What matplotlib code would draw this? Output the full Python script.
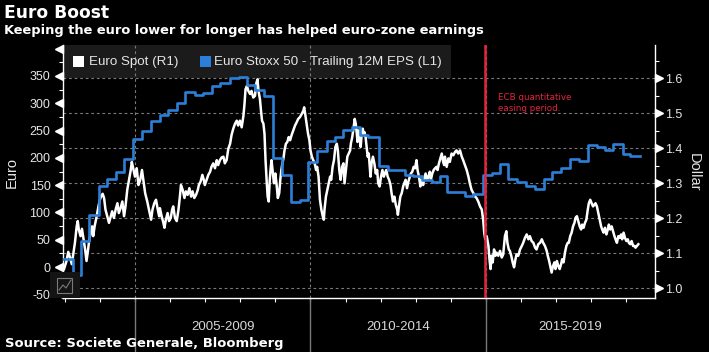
import matplotlib
matplotlib.use("Agg")
import matplotlib.pyplot as plt
from matplotlib import transforms
from matplotlib.patches import Rectangle
from matplotlib.lines import Line2D

W, H = 709, 352

# ---------------- data ----------------
# Euro Stoxx 50 trailing 12M EPS (left axis, euro), step series: start date of each level
eps_dates = [2002.96, 2003.23, 2003.45, 2003.70, 2003.98, 2004.20, 2004.46, 2004.69, 2004.95, 2005.19,
             2005.45, 2005.70, 2005.95, 2006.19, 2006.43, 2006.71, 2006.95, 2007.19, 2007.42, 2007.71,
             2007.95, 2008.18, 2008.42, 2008.68, 2008.93, 2009.18, 2009.44, 2009.69, 2009.94, 2010.18,
             2010.46, 2010.70, 2010.94, 2011.18, 2011.41, 2011.65, 2011.94, 2012.20, 2012.69, 2012.93,
             2013.17, 2013.46, 2013.69, 2013.90, 2014.40, 2014.64, 2014.91, 2015.16, 2015.40, 2015.64,
             2015.89, 2016.14, 2016.40, 2016.64, 2016.87, 2017.14, 2017.40, 2017.64, 2017.90, 2018.16,
             2018.40, 2018.63, 2018.89, 2019.11]
eps_values = [14, -15, 48, 95, 149, 162, 175, 197, 235, 249,
              268, 279, 288, 301, 320, 315, 318, 332, 337, 346,
              349, 333, 324, 314, 199, 169, 120, 122, 193, 213,
              231, 238, 251, 257, 241, 239, 185, 178, 169, 167,
              159, 155, 167, 138, 130, 134, 169, 172, 189, 162,
              156, 149, 143, 161, 174, 181, 197, 194, 224, 219,
              214, 225, 207, 204]
eps_last_date = 2019.38

# EUR/USD spot (right axis, dollar)
fx_dates_2003 = [2002.98, 2003.05, 2003.10, 2003.15, 2003.20, 2003.24, 2003.29, 2003.34, 2003.37, 2003.40,
                 2003.45, 2003.49, 2003.53, 2003.58, 2003.62, 2003.66, 2003.70, 2003.74, 2003.78, 2003.81,
                 2003.85, 2003.91, 2003.96, 2004.00, 2004.04, 2004.08, 2004.12, 2004.16, 2004.21, 2004.26,
                 2004.31, 2004.35, 2004.40, 2004.45, 2004.50, 2004.54, 2004.59, 2004.64, 2004.69, 2004.73,
                 2004.78, 2004.83, 2004.88, 2004.91, 2004.95, 2005.00, 2005.05, 2005.10, 2005.15, 2005.20,
                 2005.25, 2005.29, 2005.35, 2005.41, 2005.46, 2005.50, 2005.55, 2005.60, 2005.65, 2005.69]
fx_values_2003 = [1.055, 1.078, 1.104, 1.088, 1.069, 1.097, 1.130, 1.177, 1.192, 1.168,
                  1.149, 1.170, 1.144, 1.111, 1.078, 1.107, 1.140, 1.159, 1.177, 1.149,
                  1.177, 1.206, 1.234, 1.253, 1.264, 1.270, 1.258, 1.225, 1.206, 1.187,
                  1.206, 1.220, 1.201, 1.225, 1.243, 1.215, 1.229, 1.248, 1.206, 1.234,
                  1.281, 1.310, 1.338, 1.361, 1.343, 1.319, 1.343, 1.295, 1.310, 1.338,
                  1.300, 1.272, 1.248, 1.220, 1.196, 1.225, 1.243, 1.253, 1.225, 1.206]

fx_dates_2005 = [2005.71, 2005.76, 2005.81, 2005.84, 2005.88, 2005.93, 2005.97, 2006.02, 2006.06, 2006.09,
                 2006.14, 2006.19, 2006.24, 2006.28, 2006.31, 2006.36, 2006.41, 2006.45, 2006.50, 2006.55,
                 2006.60, 2006.64, 2006.69, 2006.74, 2006.79, 2006.82, 2006.87, 2006.92, 2006.96, 2006.99,
                 2007.04, 2007.09, 2007.14, 2007.18, 2007.23, 2007.28, 2007.33, 2007.37, 2007.42, 2007.47,
                 2007.52, 2007.56, 2007.61, 2007.66, 2007.71, 2007.75, 2007.80, 2007.85, 2007.90, 2007.94,
                 2007.99, 2008.04, 2008.09, 2008.12, 2008.15, 2008.19, 2008.23, 2008.28, 2008.32, 2008.37,
                 2008.42]
fx_values_2005 = [1.229, 1.206, 1.187, 1.173, 1.196, 1.215, 1.192, 1.201, 1.225, 1.234,
                  1.201, 1.192, 1.225, 1.262, 1.295, 1.281, 1.258, 1.277, 1.267, 1.286,
                  1.262, 1.277, 1.258, 1.267, 1.281, 1.295, 1.305, 1.324, 1.310, 1.295,
                  1.310, 1.324, 1.333, 1.347, 1.357, 1.343, 1.366, 1.352, 1.366, 1.374,
                  1.376, 1.357, 1.366, 1.399, 1.413, 1.437, 1.456, 1.470, 1.479, 1.465,
                  1.479, 1.460, 1.493, 1.526, 1.569, 1.578, 1.564, 1.555, 1.564, 1.545,
                  1.550]

fx_dates_2008 = [2008.45, 2008.49, 2008.52, 2008.56, 2008.59, 2008.62, 2008.66, 2008.69, 2008.72, 2008.75,
                 2008.78, 2008.81, 2008.84, 2008.87, 2008.89, 2008.92, 2008.96, 2009.00, 2009.04, 2009.07,
                 2009.11, 2009.14, 2009.17, 2009.20, 2009.23, 2009.26, 2009.30, 2009.34, 2009.38, 2009.42,
                 2009.46, 2009.51, 2009.56, 2009.61, 2009.65, 2009.70, 2009.75, 2009.80, 2009.82, 2009.85,
                 2009.89, 2009.93, 2009.97, 2010.00, 2010.04, 2010.08, 2010.12, 2010.16, 2010.19, 2010.23,
                 2010.27, 2010.31, 2010.35, 2010.38, 2010.40, 2010.44, 2010.48, 2010.52, 2010.56, 2010.59,
                 2010.63, 2010.67, 2010.71, 2010.75, 2010.78, 2010.82, 2010.86, 2010.90, 2010.94, 2010.97,
                 2011.01, 2011.05, 2011.09, 2011.13]
fx_values_2008 = [1.583, 1.597, 1.564, 1.541, 1.508, 1.479, 1.470, 1.442, 1.366, 1.310,
                  1.262, 1.248, 1.310, 1.347, 1.366, 1.338, 1.300, 1.328, 1.291, 1.258,
                  1.272, 1.310, 1.338, 1.357, 1.371, 1.394, 1.413, 1.418, 1.432, 1.423,
                  1.437, 1.451, 1.465, 1.475, 1.484, 1.489, 1.498, 1.508, 1.517, 1.498,
                  1.470, 1.442, 1.423, 1.394, 1.376, 1.366, 1.357, 1.338, 1.347, 1.319,
                  1.253, 1.225, 1.206, 1.196, 1.225, 1.262, 1.281, 1.300, 1.319, 1.310,
                  1.347, 1.366, 1.404, 1.413, 1.394, 1.338, 1.310, 1.347, 1.357, 1.300,
                  1.338, 1.376, 1.385, 1.394]

fx_dates_2011 = [2011.15, 2011.19, 2011.23, 2011.26, 2011.29, 2011.32, 2011.34, 2011.37, 2011.40, 2011.43,
                 2011.46, 2011.49, 2011.52, 2011.54, 2011.57, 2011.60, 2011.63, 2011.66, 2011.69, 2011.71,
                 2011.74, 2011.78, 2011.82, 2011.86, 2011.90, 2011.93, 2011.97, 2012.01, 2012.05, 2012.09,
                 2012.12, 2012.16, 2012.20, 2012.24, 2012.28, 2012.31, 2012.35, 2012.39, 2012.43, 2012.47,
                 2012.49, 2012.52, 2012.56, 2012.60, 2012.64, 2012.67, 2012.71, 2012.75, 2012.79, 2012.83,
                 2012.86, 2012.90, 2012.94, 2012.98, 2013.02, 2013.05, 2013.09, 2013.13, 2013.17, 2013.21,
                 2013.24, 2013.28, 2013.32, 2013.36, 2013.40, 2013.43, 2013.47, 2013.51, 2013.55, 2013.59,
                 2013.62, 2013.66, 2013.70, 2013.74, 2013.78, 2013.81]
fx_values_2011 = [1.413, 1.432, 1.460, 1.484, 1.470, 1.442, 1.418, 1.451, 1.432, 1.404,
                  1.442, 1.456, 1.437, 1.446, 1.432, 1.404, 1.376, 1.385, 1.347, 1.319,
                  1.357, 1.376, 1.357, 1.328, 1.338, 1.300, 1.291, 1.319, 1.338, 1.319,
                  1.328, 1.338, 1.319, 1.310, 1.295, 1.272, 1.248, 1.262, 1.239, 1.225,
                  1.210, 1.234, 1.262, 1.272, 1.291, 1.300, 1.310, 1.286, 1.305, 1.319,
                  1.328, 1.333, 1.347, 1.343, 1.366, 1.338, 1.319, 1.291, 1.310, 1.295,
                  1.314, 1.328, 1.310, 1.319, 1.333, 1.310, 1.328, 1.338, 1.343, 1.347,
                  1.338, 1.357, 1.371, 1.385, 1.361, 1.352]

fx_dates_2014 = [2013.83, 2013.88, 2013.93, 2013.97, 2014.02, 2014.07, 2014.12, 2014.16, 2014.21, 2014.26,
                 2014.31, 2014.35, 2014.40, 2014.45, 2014.50, 2014.54, 2014.59, 2014.64, 2014.69, 2014.73,
                 2014.78, 2014.83, 2014.88, 2014.92, 2014.95, 2014.98, 2015.02, 2015.07, 2015.10, 2015.13,
                 2015.16, 2015.19, 2015.23, 2015.27, 2015.30, 2015.35, 2015.40, 2015.45, 2015.49, 2015.54,
                 2015.58, 2015.61, 2015.65, 2015.68, 2015.72, 2015.76, 2015.80, 2015.84, 2015.87, 2015.92,
                 2015.97, 2016.02, 2016.06, 2016.11, 2016.16, 2016.21, 2016.25, 2016.30, 2016.35, 2016.40,
                 2016.44, 2016.49, 2016.54]
fx_values_2014 = [1.376, 1.347, 1.371, 1.361, 1.385, 1.380, 1.390, 1.394, 1.385, 1.394,
                  1.376, 1.366, 1.352, 1.338, 1.319, 1.300, 1.281, 1.272, 1.262, 1.258,
                  1.248, 1.234, 1.225, 1.196, 1.159, 1.140, 1.149, 1.121, 1.083, 1.055,
                  1.093, 1.074, 1.111, 1.093, 1.102, 1.093, 1.107, 1.088, 1.097, 1.149,
                  1.163, 1.130, 1.111, 1.107, 1.093, 1.074, 1.060, 1.083, 1.097, 1.093,
                  1.111, 1.121, 1.130, 1.144, 1.154, 1.140, 1.149, 1.135, 1.130, 1.116,
                  1.111, 1.126, 1.130]

fx_dates_2016 = [2016.59, 2016.63, 2016.68, 2016.73, 2016.76, 2016.80, 2016.83, 2016.87, 2016.91, 2016.95,
                 2016.98, 2017.02, 2017.06, 2017.10, 2017.14, 2017.17, 2017.21, 2017.25, 2017.29, 2017.33,
                 2017.36, 2017.40, 2017.44, 2017.48, 2017.52, 2017.55, 2017.59, 2017.63, 2017.67, 2017.71,
                 2017.74, 2017.78, 2017.82, 2017.86, 2017.90, 2017.93, 2017.97, 2018.01, 2018.05, 2018.09,
                 2018.12, 2018.16, 2018.20, 2018.24, 2018.28, 2018.31, 2018.35, 2018.39, 2018.43, 2018.47,
                 2018.50, 2018.54, 2018.58, 2018.62, 2018.66, 2018.69, 2018.73, 2018.77, 2018.81, 2018.85,
                 2018.88, 2018.92, 2018.96, 2019.00, 2019.04, 2019.07, 2019.11, 2019.15, 2019.19, 2019.23,
                 2019.26, 2019.30, 2019.34]
fx_values_2016 = [1.140, 1.130, 1.121, 1.107, 1.093, 1.078, 1.064, 1.045, 1.064, 1.074,
                  1.055, 1.078, 1.064, 1.055, 1.069, 1.083, 1.074, 1.102, 1.121, 1.130,
                  1.130, 1.149, 1.159, 1.177, 1.187, 1.201, 1.206, 1.192, 1.177, 1.168,
                  1.182, 1.173, 1.187, 1.196, 1.225, 1.243, 1.253, 1.243, 1.234, 1.239,
                  1.243, 1.234, 1.215, 1.196, 1.177, 1.168, 1.159, 1.173, 1.154, 1.168,
                  1.182, 1.168, 1.177, 1.163, 1.149, 1.140, 1.130, 1.149, 1.144, 1.154,
                  1.140, 1.159, 1.144, 1.135, 1.140, 1.130, 1.126, 1.135, 1.121, 1.121,
                  1.116, 1.121, 1.126]

euro_ticks = [-50, 0, 50, 100, 150, 200, 250, 300, 350, 400]
euro_labels = ['-50', '0', '50', '100', '150', '200', '250', '300', '350', '']
euro_minor = [-25, 25, 75, 125, 175, 225, 275, 325, 375]
dollar_ticks = [1.0, 1.1, 1.2, 1.3, 1.4, 1.5, 1.6]
dollar_labels = ['1.0', '1.1', '1.2', '1.3', '1.4', '1.5', '1.6']
dollar_minor = [1.05, 1.15, 1.25, 1.35, 1.45, 1.55, 1.65]
year_ticks = list(range(2003, 2020))
period_starts = [2005, 2010, 2015]
period_labels = ['2005-2009', '2010-2014', '2015-2019']
qe_start = 2014.97

title = 'Euro Boost'
subtitle = 'Keeping the euro lower for longer has helped euro-zone earnings'
source = 'Source: Societe Generale, Bloomberg'
legend_names = ['Euro Spot (R1)', 'Euro Stoxx 50 - Trailing 12M EPS (L1)']

# ---------------- style ----------------
WHITE = '#ffffff'
BLUE = '#2b7fd8'
RED = '#e3243f'
GRID = '#7a7a7a'
TXT = '#e6e6e6'
SANS = ['Liberation Sans', 'DejaVu Sans']
BOLD = ['DejaVu Sans']

plt.rcParams['font.family'] = SANS

fig = plt.figure(figsize=(W / 100, H / 100), dpi=100)
fig.patch.set_facecolor('black')


def fxp(px):
    return px / W


def fyp(py):
    return 1 - py / H


L, R, T, B = 63, 655, 45, 298
ax = fig.add_axes([fxp(L), fyp(B), (R - L) / W, (B - T) / H])
ax.set_facecolor('black')
ax.set_xlim(2002.95, 2019.815)
ax.set_ylim(0.9723, 1.6951)
axe = ax.twinx()
axe.set_ylim(-56.8, 406.8)
axe.yaxis.tick_left()
axe.yaxis.set_label_position('left')
ax.yaxis.tick_right()
ax.yaxis.set_label_position('right')

ax.spines['top'].set_visible(False)
for s in ['left', 'right', 'bottom']:
    ax.spines[s].set_color(WHITE)
    ax.spines[s].set_linewidth(1.0)
for s in axe.spines.values():
    s.set_visible(False)

# legend box
leg_w = (451 - L) / (R - L)
leg_h = (78 - T) / (B - T)
ax.add_patch(Rectangle((0, 1 - leg_h), leg_w, leg_h, transform=ax.transAxes,
                       facecolor='#1b1b1b', edgecolor='none', zorder=0.3))

# grid
for v in dollar_ticks:
    ax.axhline(v, color=GRID, lw=0.8, ls=(0, (2.5, 2.5)), zorder=1)
for p in period_starts:
    ax.axvline(p, color=GRID, lw=0.8, ls=(0, (2.5, 2.5)), zorder=1)

# series
fx_dates = fx_dates_2003 + fx_dates_2005 + fx_dates_2008 + fx_dates_2011 + fx_dates_2014 + fx_dates_2016
fx_values = fx_values_2003 + fx_values_2005 + fx_values_2008 + fx_values_2011 + fx_values_2014 + fx_values_2016
ax.plot(fx_dates, fx_values, color=WHITE, lw=1.8, zorder=3)

axe.plot(eps_dates + [eps_last_date], eps_values + [eps_values[-1]], drawstyle='steps-post',
         color=BLUE, lw=1.9, zorder=3)
axe.axvline(qe_start, color=RED, lw=1.8, zorder=5)

# ticks
ax.set_xticks([])
ax.set_xticks(year_ticks, minor=True)
ax.tick_params(axis='x', which='minor', length=3, width=0.8, color=WHITE, direction='out')
ax.set_yticks(dollar_ticks, dollar_labels)
ax.set_yticks(dollar_minor, minor=True)
ax.tick_params(axis='y', which='major', length=0, pad=7, labelsize=9, labelcolor=TXT)
ax.tick_params(axis='y', which='minor', length=3, width=0.8, color=WHITE, direction='out')
axe.set_yticks(euro_ticks, euro_labels)
axe.set_yticks(euro_minor, minor=True)
axe.tick_params(axis='y', which='major', length=0, pad=9, labelsize=9, labelcolor=TXT)
axe.tick_params(axis='y', which='minor', length=3, width=0.8, color=WHITE, direction='out')

tl = transforms.offset_copy(transforms.blended_transform_factory(axe.transAxes, axe.transData),
                            fig=fig, x=-4, y=0, units='dots')
axe.plot([0] * len(euro_ticks), euro_ticks, ls='none', marker='<', ms=5.5, color=WHITE,
         transform=tl, clip_on=False, zorder=6)
tr = transforms.offset_copy(transforms.blended_transform_factory(ax.transAxes, ax.transData),
                            fig=fig, x=4, y=0, units='dots')
ax.plot([1] * len(dollar_ticks), dollar_ticks, ls='none', marker='>', ms=5.5, color=WHITE,
        transform=tr, clip_on=False, zorder=6)

# period labels and separators
tb = transforms.blended_transform_factory(ax.transData, ax.transAxes)
xmax = ax.get_xlim()[1]
for start, lab in zip(period_starts, period_labels):
    end = min(start + 5, xmax)
    ax.text((start + end) / 2, (B - 327) / (B - T), lab, transform=tb, ha='center', va='center',
            fontsize=9.5, color='#d8d8d8')
    ax.add_line(Line2D([start, start], [0, (B - 351) / (B - T)], transform=tb, color='#7a7a7a',
                       lw=1.0, clip_on=False))

# annotation
fig.text(fxp(498), fyp(97), 'ECB quantitative', color=RED, fontsize=6.3, va='center', ha='left',
         family=['DejaVu Sans'])
fig.text(fxp(498), fyp(109), 'easing period.', color=RED, fontsize=6.3, va='center', ha='left',
         family=['DejaVu Sans'])

# legend
fig.patches.append(Rectangle((fxp(73), fyp(67)), 11 / W, 11 / H, transform=fig.transFigure,
                             facecolor=WHITE, edgecolor='none', zorder=5))
fig.text(fxp(89), fyp(62), legend_names[0], color=TXT, fontsize=9.6, va='center', ha='left')
fig.patches.append(Rectangle((fxp(200), fyp(67)), 11 / W, 11 / H, transform=fig.transFigure,
                             facecolor=BLUE, edgecolor='none', zorder=5))
fig.text(fxp(214), fyp(62), legend_names[1], color=TXT, fontsize=9.6, va='center', ha='left')

# axis titles
fig.text(fxp(12), fyp(172), 'Euro', rotation=90, color=TXT, fontsize=10.5, ha='center', va='center')
fig.text(fxp(694), fyp(172), 'Dollar', rotation=-90, color=TXT, fontsize=10.5, ha='center', va='center')

# titles and source
fig.text(fxp(4), fyp(18), title, color=WHITE, fontsize=12.3, fontweight='bold', family=BOLD,
         ha='left', va='baseline')
fig.text(fxp(4), fyp(34), subtitle, color=WHITE, fontsize=9.35, fontweight='bold', family=BOLD,
         ha='left', va='baseline')
fig.text(fxp(5), fyp(347), source, color=WHITE, fontsize=9.45, fontweight='bold', family=BOLD,
         ha='left', va='baseline')

# small chart icon at bottom-left
fig.patches.append(Rectangle((fxp(50), fyp(298)), 30 / W, 26 / H, transform=fig.transFigure,
                             facecolor='#141414', edgecolor='none', zorder=6))
fig.patches.append(Rectangle((fxp(57), fyp(293)), 15 / W, 15 / H, transform=fig.transFigure,
                             facecolor='none', edgecolor='#7a7a7a', lw=0.8, zorder=7))
fig.lines.append(Line2D([fxp(59), fxp(63), fxp(66), fxp(71)], [fyp(290), fyp(285), fyp(288), fyp(280)],
                        transform=fig.transFigure, color='#7a7a7a', lw=0.8, zorder=7))

fig.savefig('out.png', dpi=100, facecolor='black')
